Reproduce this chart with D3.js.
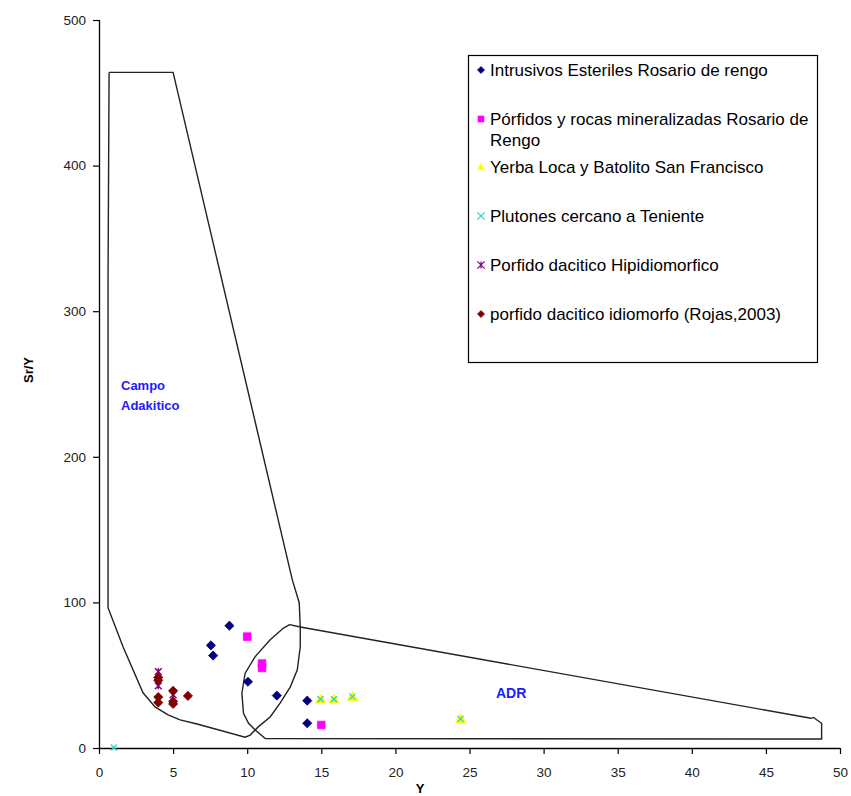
<!DOCTYPE html>
<html>
<head>
<meta charset="utf-8">
<script src="https://cdn.jsdelivr.net/npm/d3@7"></script>
<style>
  body { margin: 0; background: #fff; }
  svg { display: block; font-family: "Liberation Sans", Arial, sans-serif; }
</style>
</head>
<body>
<div id="chart"></div>
<script>
// Sr/Y vs Y discrimination diagram
const xTicks = [0, 5, 10, 15, 20, 25, 30, 35, 40, 45, 50];
const yTicks = [0, 100, 200, 300, 400, 500];

// field boundaries, [Y, Sr/Y]
const adakiticField = [
  [0.68, 464], [5.0, 464], [13.04, 115.6], [13.51, 99.8], [13.58, 83.3], [13.58, 69.5],
  [13.38, 53.7], [12.91, 42.0], [12.23, 31.0], [11.55, 21.3], [10.74, 14.5],
  [10.2, 8.9], [9.86, 7.4], [6.62, 16.5], [5.47, 19.3], [4.66, 22.7], [3.78, 28.2],
  [2.97, 37.9], [1.62, 69.5], [0.61, 96.4], [0.61, 322], [0.68, 464]
];
const adrField = [
  [12.86, 84.7], [13.58, 83.1], [48.04, 20.4], [48.22, 21.0], [48.4, 19.6],
  [48.76, 17.0], [48.76, 6.2], [11.22, 6.5], [10.54, 12.4], [10.09, 17.0],
  [9.75, 23.9], [9.64, 37.6], [9.86, 51.4], [10.54, 62.8], [11.55, 74.3],
  [12.45, 82.4], [12.86, 84.7]
];

// samples, [Y, Sr/Y]
const intrusivosEsteriles = [[8.8, 84], [7.55, 70.5], [7.7, 63.5], [10.05, 45.5], [12.0, 36], [14.05, 32.5], [14.05, 17]];
const porfidosMineralizados = [[10.0, 76.5], [11.0, 58], [11.0, 55], [15.0, 15.8]];
const yerbaLoca = [[14.95, 33.5], [15.85, 33.5], [17.1, 35.3], [24.4, 20]];
const plutonesTeniente = [[1.0, 0.3], [14.95, 33.5], [15.85, 33.5], [17.1, 35.3], [24.4, 20]];
const porfidoHipidiomorfico = [[4.0, 52.5], [4.0, 42.7], [5.0, 36.5]];
const porfidoIdiomorfo = [[4.0, 48.5], [4.0, 46.5], [4.0, 35], [4.0, 31.2], [5.0, 39.3], [5.0, 32], [5.0, 30.3], [6.0, 35.8]];

const legendLabels = [
  ["Intrusivos Esteriles Rosario de rengo"],
  ["Pórfidos y rocas mineralizadas Rosario de", "Rengo"],
  ["Yerba Loca y Batolito San Francisco"],
  ["Plutones cercano a Teniente"],
  ["Porfido dacitico Hipidiomorfico"],
  ["porfido dacitico idiomorfo (Rojas,2003)"]
];

const W = 851, H = 796;
const margin = { left: 99, right: 11, top: 20, bottom: 48 };

const svg = d3.select("#chart").append("svg").attr("width", W).attr("height", H);

const x = d3.scaleLinear().domain([0, 50]).range([margin.left, W - margin.right]);
const y = d3.scaleLinear().domain([0, 500]).range([H - margin.bottom, margin.top]);

// marker shapes (centered at 0,0)
const shapes = {
  diamond: r => `M0,${-r}L${r},0L0,${r}L${-r},0Z`,
  square: r => `M${-r},${-r}H${r}V${r}H${-r}Z`,
  triangle: r => `M0,${-r}L${r},${r * 0.75}L${-r},${r * 0.75}Z`,
  cross: r => `M${-r},${-r}L${r},${r}M${r},${-r}L${-r},${r}`,
  asterisk: r => `M${-r},${-r}L${r},${r}M${r},${-r}L${-r},${r}M0,${-r}L0,${r}`
};

const series = [
  { data: intrusivosEsteriles, shape: "diamond", color: "#000080", size: 4.6, fill: true, sw: 0.8 },
  { data: porfidosMineralizados, shape: "square", color: "#ff00ff", size: 3.8, fill: true, sw: 0.8 },
  { data: yerbaLoca, shape: "triangle", color: "#ffff00", size: 5.2, fill: true, sw: 0.8 },
  { data: plutonesTeniente, shape: "cross", color: "#2fd0d0", size: 3.0, fill: false, sw: 1.3 },
  { data: porfidoHipidiomorfico, shape: "asterisk", color: "#800080", size: 3.4, fill: false, sw: 1.5 },
  { data: porfidoIdiomorfo, shape: "diamond", color: "#800000", size: 4.6, fill: true, sw: 0.8 }
];

// field outlines
const line = d3.line().x(d => x(d[0])).y(d => y(d[1]));
svg.append("path").attr("d", line(adakiticField))
  .attr("fill", "none").attr("stroke", "#222").attr("stroke-width", 1.4);
svg.append("path").attr("d", line(adrField))
  .attr("fill", "none").attr("stroke", "#222").attr("stroke-width", 1.4);

// field names
const fieldText = svg.append("text").attr("font-size", 13).attr("font-weight", "bold").attr("fill", "#1c1cff");
fieldText.append("tspan").attr("x", 121).attr("y", 390).text("Campo");
fieldText.append("tspan").attr("x", 121).attr("y", 410).text("Adakitico");
svg.append("text").attr("x", 496).attr("y", 698).attr("font-size", 14).attr("font-weight", "bold")
  .attr("fill", "#1c1cff").text("ADR");

// axes
const xAxis = d3.axisBottom(x).tickValues(xTicks).tickSize(6).tickPadding(13);
const yAxis = d3.axisLeft(y).tickValues(yTicks).tickSize(6).tickPadding(7);
const gx = svg.append("g").attr("transform", `translate(0,${y(0)})`).call(xAxis);
const gy = svg.append("g").attr("transform", `translate(${x(0)},0)`).call(yAxis);
[gx, gy].forEach(g => {
  g.select(".domain").attr("stroke", "#000").attr("stroke-width", 1.3);
  g.selectAll(".tick line").attr("stroke", "#000").attr("stroke-width", 1.2);
  g.selectAll(".tick text").attr("font-size", 13.5).attr("fill", "#222")
    .attr("font-family", "\"Liberation Sans\", Arial, sans-serif");
});
gx.select(".domain").attr("d", `M${x(0)},0.5H${x(50)}`);
gy.select(".domain").attr("d", `M0.5,${y(0)}V${y(500)}`);

svg.append("text").attr("x", 420).attr("y", 793).attr("text-anchor", "middle")
  .attr("font-size", 13).attr("font-weight", "bold").text("Y");
svg.append("text").attr("transform", `translate(33,370) rotate(-90)`).attr("text-anchor", "middle")
  .attr("font-size", 13).attr("font-weight", "bold").text("Sr/Y");

// sample markers
series.forEach(s => {
  svg.append("g").selectAll("path").data(s.data).join("path")
    .attr("transform", d => `translate(${x(d[0])},${y(d[1])})`)
    .attr("d", shapes[s.shape](s.size))
    .attr("fill", s.fill ? s.color : "none")
    .attr("stroke", s.color)
    .attr("stroke-width", s.sw);
});

// legend
const lg = svg.append("g");
lg.append("rect").attr("x", 468.5).attr("y", 55.5).attr("width", 349).attr("height", 307)
  .attr("fill", "#fff").attr("stroke", "#000").attr("stroke-width", 1.2);
const rowY = [70, 119, 167, 216, 265, 314];
series.forEach((s, i) => {
  lg.append("path").attr("transform", `translate(481,${rowY[i]})`)
    .attr("d", shapes[s.shape](s.shape === "square" ? 3 : 3.6))
    .attr("fill", s.fill ? s.color : "none").attr("stroke", s.color)
    .attr("stroke-width", s.fill ? 0.6 : 1.2);
  const t = lg.append("text").attr("font-size", 17).attr("fill", "#000");
  legendLabels[i].forEach((ln, j) => {
    t.append("tspan").attr("x", 490).attr("y", rowY[i] + 6 + j * 21).text(ln);
  });
});
</script>
</body>
</html>
